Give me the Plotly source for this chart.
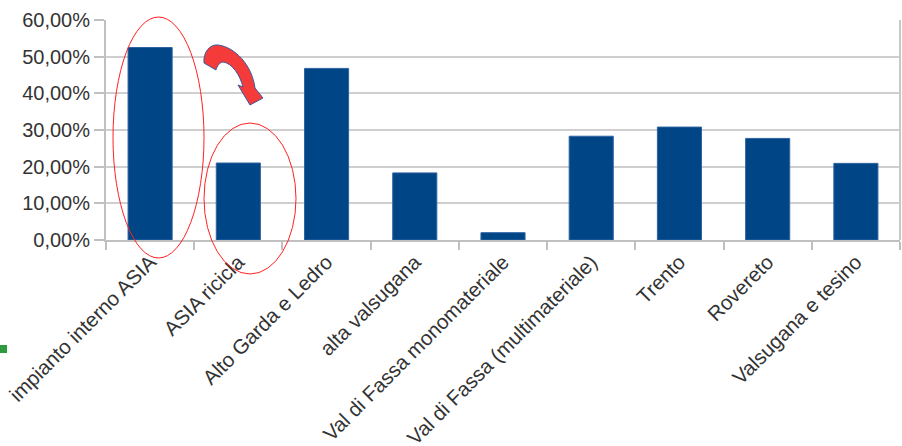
import plotly.graph_objects as go

categories = [
    "impianto interno ASIA",
    "ASIA ricicla",
    "Alto Garda e Ledro",
    "alta valsugana",
    "Val di Fassa monomateriale",
    "Val di Fassa (multimateriale)",
    "Trento",
    "Rovereto",
    "Valsugana e tesino",
]
values = [0.525, 0.210, 0.468, 0.183, 0.020, 0.283, 0.308, 0.277, 0.209]
y_ticks = [0, 0.1, 0.2, 0.3, 0.4, 0.5, 0.6]

W, H = 902, 446
L, R, T, B = 106, 2, 20, 206
PW, PH = W - L - R, H - T - B


def px(x):
    return (x - L) / PW


def py(y):
    return (T + PH - y) / PH


fig = go.Figure(
    go.Bar(
        x=categories,
        y=values,
        marker=dict(color="#004586", line=dict(color="#2f64a0", width=1)),
        width=0.5,
    )
)

font = "Liberation Sans, Arial, sans-serif"

shapes = [
    # red ellipses
    dict(type="circle", xref="paper", yref="paper",
         x0=px(113), x1=px(204), y0=py(258), y1=py(17),
         line=dict(color="#ff2020", width=1)),
    dict(type="circle", xref="paper", yref="paper",
         x0=px(204), x1=px(296), y0=py(274), y1=py(123),
         line=dict(color="#ff2020", width=1)),
    # right frame line
    dict(type="line", xref="paper", yref="paper", x0=1, x1=1, y0=0, y1=1,
         line=dict(color="#c8c8c8", width=2)),
    # green marker at the left edge
    dict(type="rect", xref="paper", yref="paper",
         x0=px(0), x1=px(7), y0=py(353), y1=py(345),
         fillcolor="#2e9a3e", line=dict(width=0)),
]

arrow_pts = [
    ("M", [(204, 63)]),
    ("C", [(203, 52), (210, 44), (218, 45)]),
    ("C", [(235, 47), (252, 65), (255, 88)]),
    ("L", [(263, 98)]),
    ("L", [(250, 105)]),
    ("L", [(238, 85)]),
    ("L", [(243, 87)]),
    ("C", [(240, 75), (232, 63), (223, 62)]),
    ("C", [(220, 62), (217, 66), (216, 70)]),
]
path = ""
for cmd, pts in arrow_pts:
    path += cmd + " " + " ".join(f"{px(a):.5f},{py(b):.5f}" for a, b in pts) + " "
path += "Z"
shapes.append(dict(type="path", xref="paper", yref="paper", path=path,
                   fillcolor="#f53a3a", line=dict(color="#3b5aa0", width=1)))

fig.update_layout(
    width=W, height=H,
    margin=dict(l=L, r=R, t=T, b=B, pad=0),
    paper_bgcolor="white", plot_bgcolor="white",
    separators=",.",
    showlegend=False,
    bargap=0.5,
    font=dict(family=font, size=20, color="#333333"),
    shapes=shapes,
    xaxis=dict(
        type="category",
        tickangle=-45,
        ticks="outside", tickson="boundaries", ticklen=8, tickwidth=2,
        tickcolor="#c0c0c0",
        showline=True, linecolor="#c0c0c0", linewidth=2,
        showgrid=False,
        tickfont=dict(family=font, size=20.5, color="#333333"),
        automargin=False,
    ),
    yaxis=dict(
        range=[0, 0.6],
        tickvals=y_ticks,
        tickformat=".2%",
        ticks="outside", ticklen=10, tickwidth=2, tickcolor="#c0c0c0",
        showline=True, linecolor="#c0c0c0", linewidth=2,
        showgrid=True, gridcolor="#cfcfcf", gridwidth=2,
        zeroline=False,
        tickfont=dict(family=font, size=20, color="#333333"),
        automargin=False,
    ),
)

fig.write_html("out.html")
